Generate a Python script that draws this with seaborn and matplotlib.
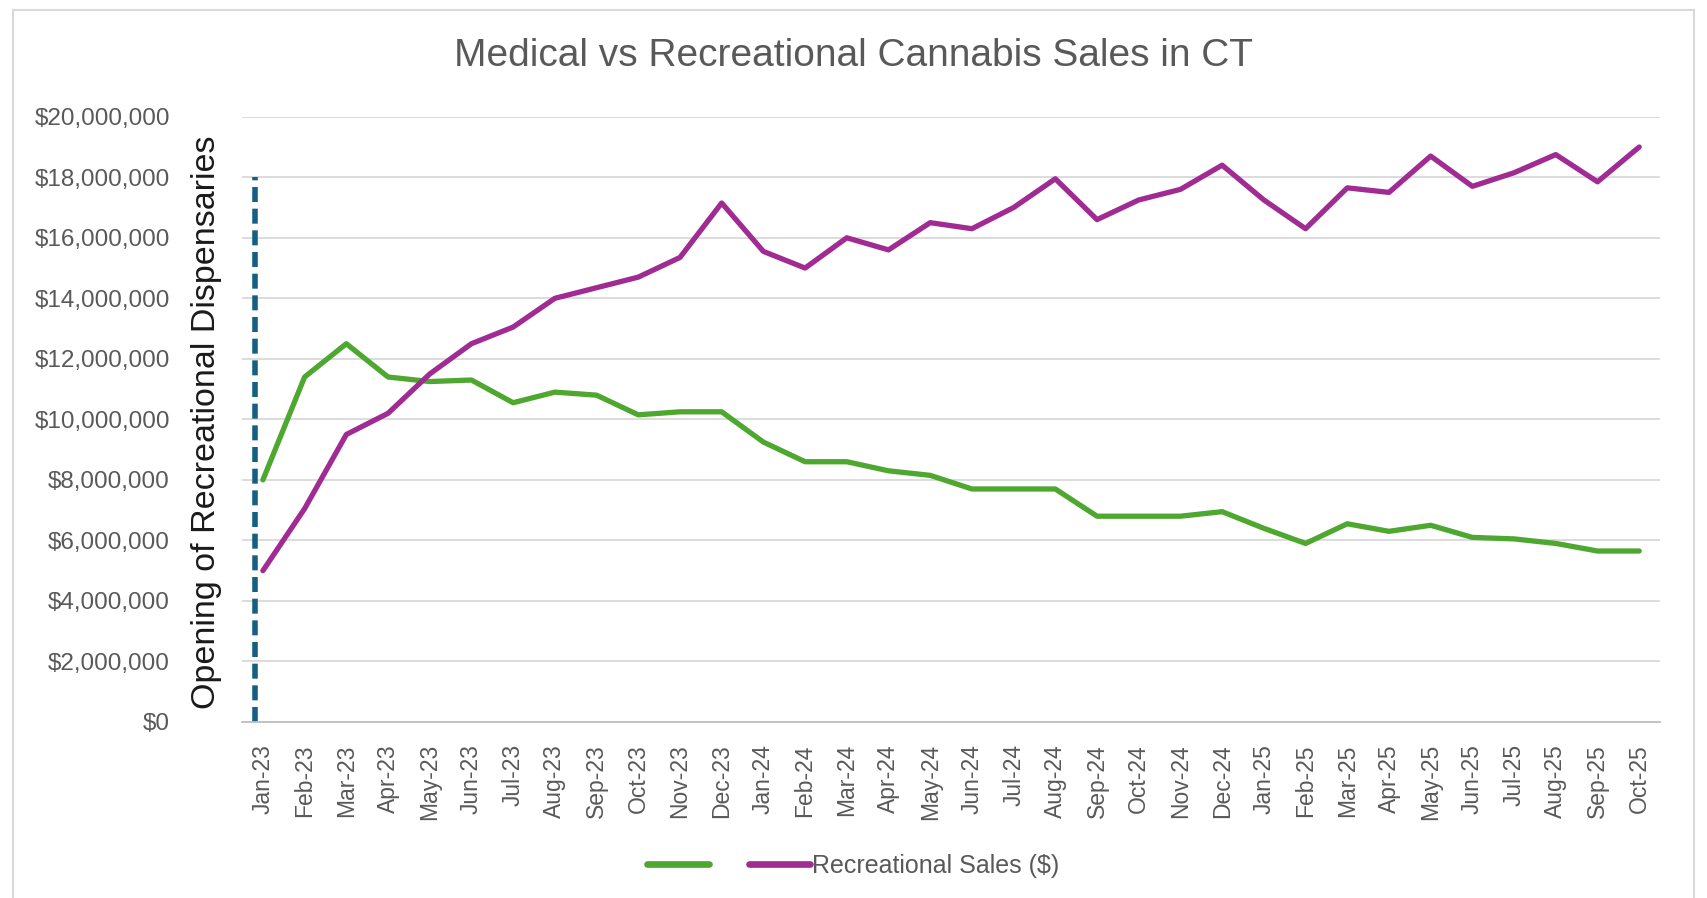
import pandas as pd
import numpy as np
import matplotlib.pyplot as plt
import matplotlib.ticker as mticker
from matplotlib.lines import Line2D
from matplotlib.patches import Rectangle
import seaborn as sns

# Monthly data
months = ["Jan-23", "Feb-23", "Mar-23", "Apr-23", "May-23", "Jun-23", "Jul-23", "Aug-23",
          "Sep-23", "Oct-23", "Nov-23", "Dec-23", "Jan-24", "Feb-24", "Mar-24", "Apr-24",
          "May-24", "Jun-24", "Jul-24", "Aug-24", "Sep-24", "Oct-24", "Nov-24", "Dec-24",
          "Jan-25", "Feb-25", "Mar-25", "Apr-25", "May-25", "Jun-25", "Jul-25", "Aug-25",
          "Sep-25", "Oct-25"]

medical = [8.0, 11.4, 12.5, 11.4, 11.25, 11.3, 10.55, 10.9, 10.8, 10.15, 10.25, 10.25,
           9.25, 8.6, 8.6, 8.3, 8.15, 7.7, 7.7, 7.7, 6.8, 6.8, 6.8, 6.95,
           6.4, 5.9, 6.55, 6.3, 6.5, 6.1, 6.05, 5.9, 5.65, 5.65]

recreational = [5.0, 7.05, 9.5, 10.2, 11.5, 12.5, 13.05, 14.0, 14.35, 14.7, 15.35, 17.15,
                15.55, 15.0, 16.0, 15.6, 16.5, 16.3, 17.0, 17.95, 16.6, 17.25, 17.6, 18.4,
                17.25, 16.3, 17.65, 17.5, 18.7, 17.7, 18.15, 18.75, 17.85, 19.0]

opening_top = 18e6

df = pd.DataFrame({
    "idx": list(range(len(months))) * 2,
    "Sales": [v * 1e6 for v in medical] + [v * 1e6 for v in recreational],
    "Type": ["Medical Sales ($)"] * len(months) + ["Recreational Sales ($)"] * len(months),
})

green = "#4EA72E"
purple = "#A02B93"
grey_txt = "#595959"

sns.set_style("white")
plt.rcParams["font.family"] = ["Liberation Sans", "DejaVu Sans"]

fig = plt.figure(figsize=(17.07, 8.98), dpi=100)
ax = fig.add_axes([0.1418, 0.196, 0.8307, 0.674])

sns.lineplot(data=df, x="idx", y="Sales", hue="Type",
             palette={"Medical Sales ($)": green, "Recreational Sales ($)": purple},
             linewidth=3.8, ax=ax, legend=False)

# opening of recreational dispensaries marker
ax.plot([-0.18, -0.18], [0, opening_top], color="#156082", linewidth=4,
        linestyle=(0, (2.7, 1.2)), solid_capstyle="butt")

ax.set_xlim(-0.5, len(months) - 0.5)
ax.set_ylim(0, 20e6)
ax.yaxis.set_major_locator(mticker.MultipleLocator(2e6))
ax.yaxis.set_major_formatter(mticker.FuncFormatter(lambda v, p: f"${v:,.0f}"))
ax.grid(axis="y", color="#D9D9D9", linewidth=1.3)
ax.set_axisbelow(True)

ax.set_xticks(range(len(months)))
ax.set_xticklabels(months, rotation=90)
ax.set_xticks(np.arange(-0.5, len(months)), minor=True)
ax.tick_params(axis="x", which="major", length=0, pad=16, labelsize=16.5, labelcolor=grey_txt)
ax.tick_params(axis="x", which="minor", length=7, color="#BFBFBF", width=1.2)
ax.tick_params(axis="y", length=0, pad=52, labelsize=17.5, labelcolor=grey_txt)

for s in ["top", "right", "left"]:
    ax.spines[s].set_visible(False)
ax.spines["bottom"].set_color("#BFBFBF")
ax.spines["bottom"].set_linewidth(1.3)
ax.set_xlabel("")
ax.set_ylabel("")

fig.text(0.121, 0.53, "Opening of Recreational Dispensaries", rotation=90,
         ha="center", va="center", fontsize=24.5, color="#1a1a1a")

fig.suptitle("Medical vs Recreational Cannabis Sales in CT", x=0.5, y=0.938,
             fontsize=28, color=grey_txt, va="center")

handles = [Line2D([], [], color=green, linewidth=4.8),
           Line2D([], [], color=purple, linewidth=4.8)]
fig.legend(handles, ["", "Recreational Sales ($)"], loc="center",
           bbox_to_anchor=(0.5, 0.036), ncol=2, frameon=False, fontsize=18,
           labelcolor=grey_txt, handlelength=2.45, handletextpad=0.1, columnspacing=1.5)

# chart area border
fig.patches.append(Rectangle((13 / 1707, -0.05), (1694 - 13) / 1707, 1.05 - 10 / 898,
                             transform=fig.transFigure, fill=False,
                             edgecolor="#D9D9D9", linewidth=1.5))

fig.savefig("out.png", dpi=100)
